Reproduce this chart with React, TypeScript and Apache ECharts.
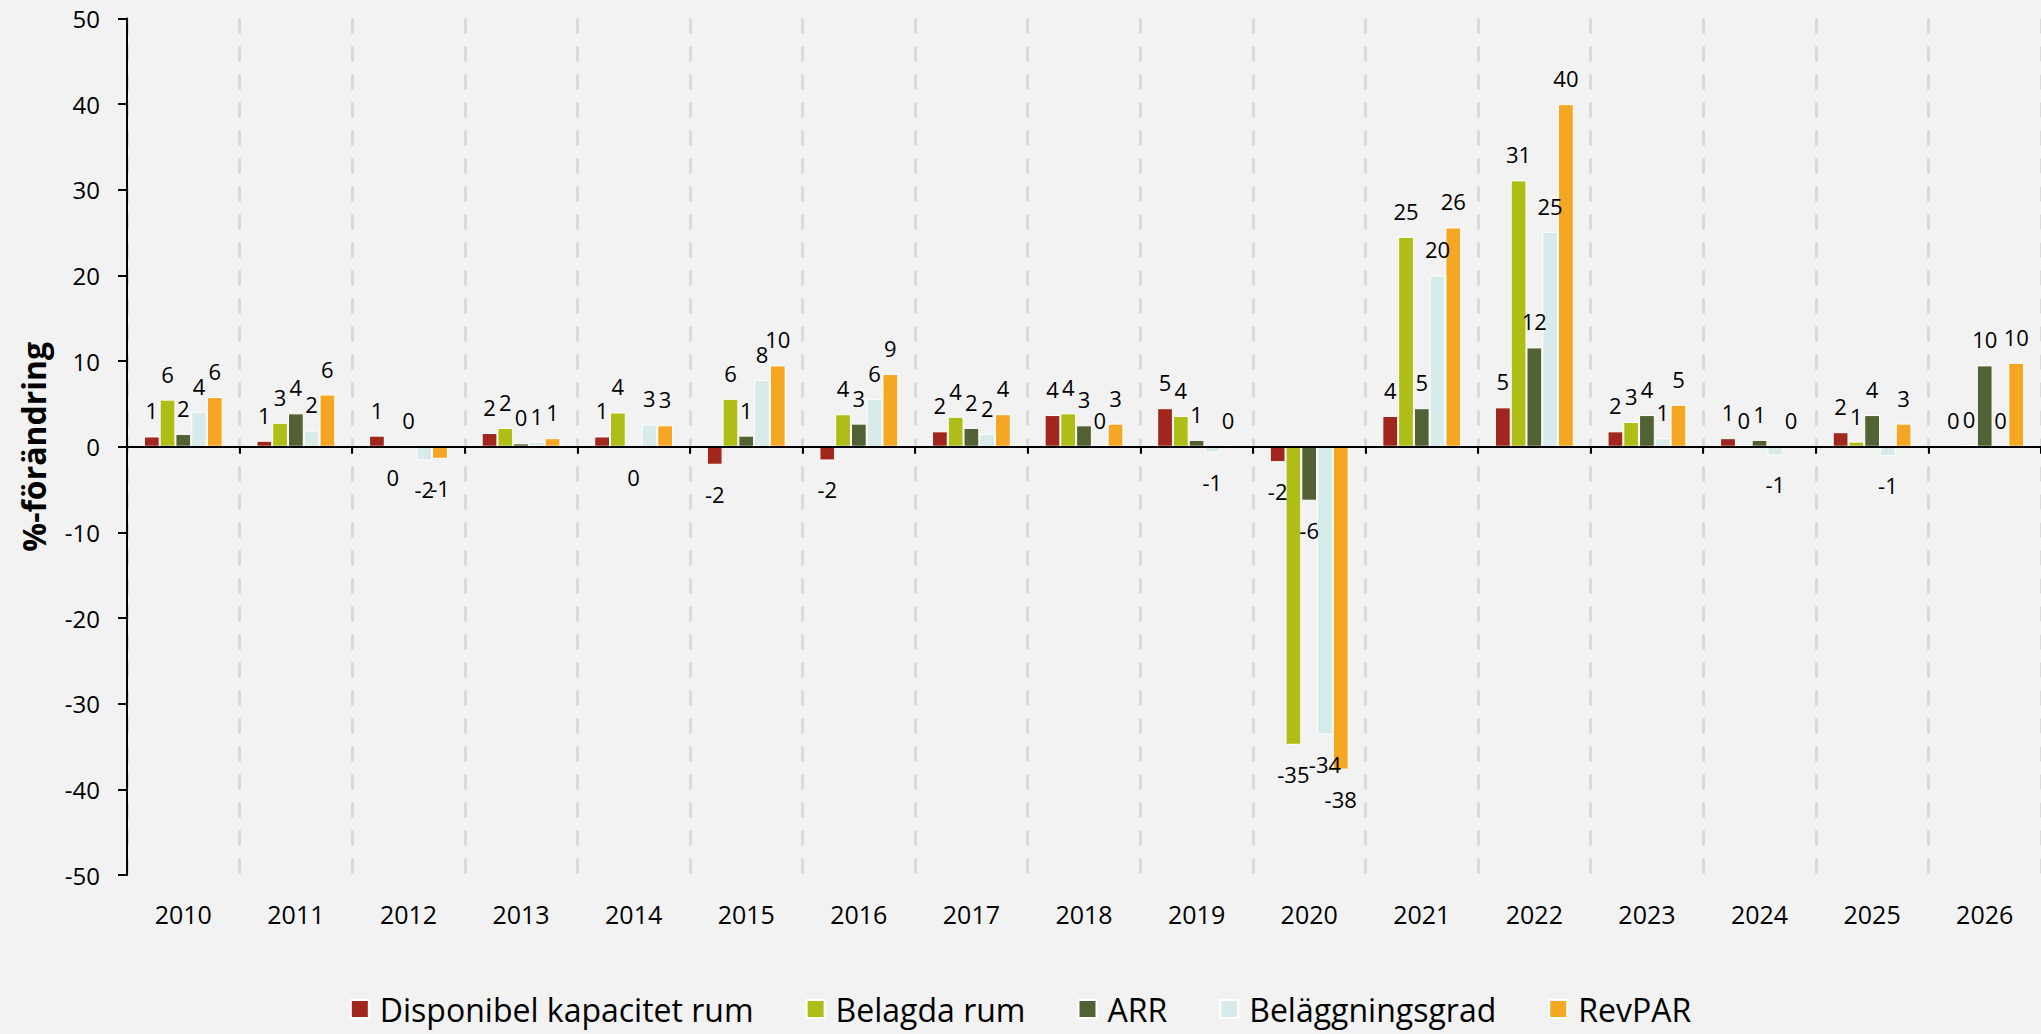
import React, { useEffect, useRef } from "react";
import * as echarts from "echarts";

const years = ["2010", "2011", "2012", "2013", "2014", "2015", "2016", "2017", "2018", "2019", "2020", "2021", "2022", "2023", "2024", "2025", "2026"];
const seriesNames = ["Disponibel kapacitet rum", "Belagda rum", "ARR", "Beläggningsgrad", "RevPAR"];
const capacity = [1.2, 0.7, 1.3, 1.6, 1.2, -2.1, -1.6, 1.8, 3.7, 4.5, -1.8, 3.6, 4.6, 1.8, 1.0, 1.7, 0.0];
const belagda = [5.5, 2.8, -0.1, 2.2, 4.0, 5.6, 3.8, 3.5, 3.9, 3.6, -34.8, 24.5, 31.1, 2.9, 0.1, 0.6, 0.2];
const arr = [1.5, 3.9, 0.1, 0.4, -0.1, 1.3, 2.7, 2.2, 2.5, 0.8, -6.3, 4.5, 11.6, 3.7, 0.8, 3.7, 9.5];
const belaggning = [4.1, 1.9, -1.6, 0.6, 2.6, 7.8, 5.6, 1.5, 0.1, -0.7, -33.6, 20.0, 25.1, 1.0, -1.0, -1.1, 0.05];
const revpar = [5.8, 6.1, -1.4, 1.0, 2.5, 9.5, 8.5, 3.8, 2.7, 0.1, -37.7, 25.6, 40.0, 4.9, 0.0, 2.7, 9.8];
const colors = ["#A0261E", "#AFBE16", "#536234", "#D7ECEA", "#F5A623"];

export default function App() {
  const ref = useRef<HTMLDivElement>(null);
  useEffect(() => {
    const chart = echarts.init(ref.current as HTMLDivElement, null, { renderer: "svg" });
    const font = "'Open Sans', sans-serif";
    const dataSets = [capacity, belagda, arr, belaggning, revpar];
    chart.setOption({
      animation: false,
      backgroundColor: "#F2F2F2",
      textStyle: { fontFamily: font },
      grid: { left: 127, right: 0, top: 18.5, bottom: 159 },
      legend: {
        data: seriesNames,
        top: 993,
        left: "center",
        padding: 0,
        icon: "rect",
        itemWidth: 18,
        itemHeight: 18,
        itemGap: 52,
        textStyle: { fontFamily: font, fontSize: 32, color: "#000", padding: [0, 0, 0, 6] },
      },
      xAxis: [
        {
          type: "category",
          data: years,
          position: "bottom",
          axisLine: { show: false, onZero: false },
          axisTick: { show: false },
          axisLabel: { fontFamily: font, fontSize: 25, color: "#000", margin: 26 },
          splitLine: { show: true, lineStyle: { color: "#D9D9D9", width: 3, type: [15, 13] } },
        },
        {
          type: "category",
          data: years,
          position: "bottom",
          z: 5,
          axisLine: { show: true, onZero: true, lineStyle: { color: "#000", width: 2 } },
          axisTick: { show: true, length: 7, lineStyle: { color: "#000", width: 2 } },
          axisLabel: { show: false },
          splitLine: { show: false },
        },
      ],
      yAxis: {
        type: "value",
        min: -50,
        max: 50,
        interval: 10,
        name: "%-förändring",
        nameLocation: "middle",
        nameRotate: 90,
        nameGap: 78,
        nameTextStyle: { fontFamily: font, fontSize: 32, fontWeight: "bold", color: "#000" },
        axisLine: { show: true, lineStyle: { color: "#000", width: 2 } },
        axisTick: { show: true, length: 9, lineStyle: { color: "#000", width: 2 } },
        axisLabel: { fontFamily: font, fontSize: 24, color: "#000", margin: 27 },
        splitLine: { show: false },
      },
      series: seriesNames.map((name, i) => ({
        type: "bar",
        name,
        xAxisIndex: 0,
        barGap: "0%",
        barCategoryGap: "30%",
        itemStyle: { color: colors[i], borderColor: "#FFFFFF", borderWidth: 1 },
        label: {
          show: true,
          fontFamily: font,
          fontSize: 22,
          color: "#000",
          formatter: (p: any) => String(Math.round(Number(p.value))),
        },
        data: dataSets[i].map((v) => ({
          value: v,
          label: { position: v < 0 ? "bottom" : "top", distance: v < 0 ? 18 : 15 },
        })),
      })),
    });
    return () => chart.dispose();
  }, []);
  return <div ref={ref} style={{ position: "absolute", left: 0, top: 0, width: 2041, height: 1034 }} />;
}
